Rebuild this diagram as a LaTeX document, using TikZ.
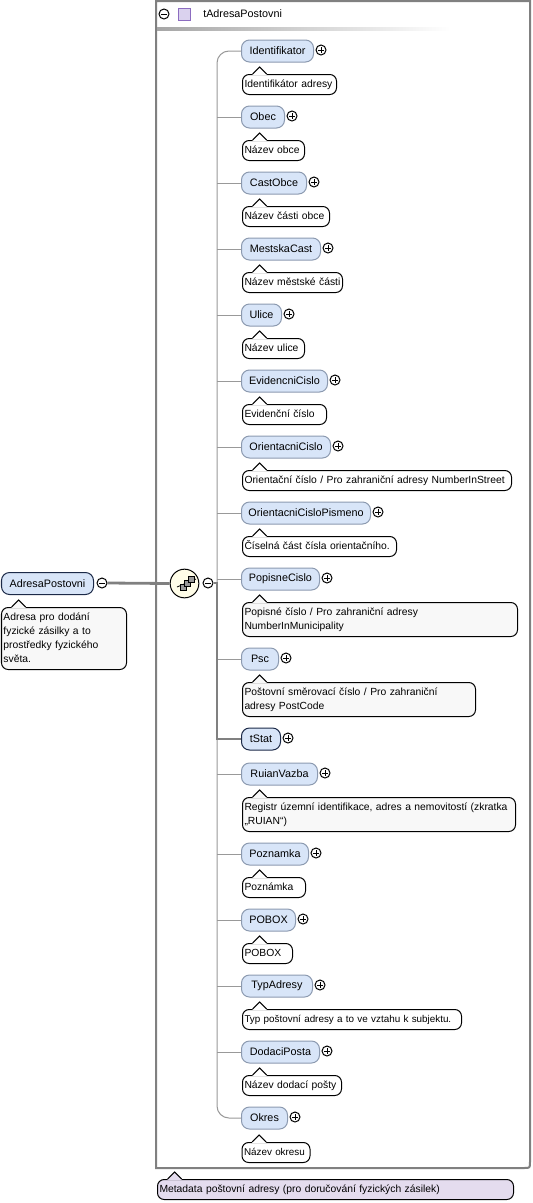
\documentclass[tikz,border=0pt]{standalone}
\usepackage{fontspec}
\setmainfont{Liberation Sans}
\definecolor{elem_fill}{HTML}{D8E5F8}
\definecolor{elem_line}{HTML}{8C9AB0}
\definecolor{elem_dark}{HTML}{1C2A48}
\definecolor{doc_gray}{HTML}{F8F8F8}
\definecolor{doc_violet}{HTML}{E4DCEE}
\definecolor{seq_fill}{HTML}{FFFDE8}
\definecolor{line_gray}{HTML}{808080}
\definecolor{type_fill}{HTML}{DAD2EE}
\definecolor{type_line}{HTML}{8C6CC0}

\begin{document}
\begin{tikzpicture}[
    x=0.75pt, y=-0.75pt,
    every node/.style={font=\fontsize{8.1}{10.5}\selectfont},
    elem/.style={rectangle, draw=elem_line, fill=elem_fill, line width=0.75pt, anchor=west,
                 minimum width=0.75pt*#1, minimum height=16.5pt, rounded corners=6pt, inner sep=0pt},
    elemreq/.style={elem=#1, draw=elem_dark},
    doc/.style n args={2}{rectangle, draw=black, fill=#2, line width=0.75pt, anchor=north west,
                 font=\fontsize{7.75}{10.5}\selectfont,
                 text width=0.75pt*#1-3pt, inner xsep=1.5pt, inner ysep=2.25pt, align=left,
                 rounded corners=5pt, execute at begin node=\strut, execute at end node=\strut},
    expander/.style={circle, draw=black, fill=white, line width=0.75pt, minimum size=7.5pt, inner sep=0pt},
    plusbtn/.style={expander, path picture={
        \draw[black, line width=0.6pt] ([xshift=-2pt]path picture bounding box.center) -- ([xshift=2pt]path picture bounding box.center);
        \draw[black, line width=0.6pt] ([yshift=-2pt]path picture bounding box.center) -- ([yshift=2pt]path picture bounding box.center);}},
    minusbtn/.style={expander, path picture={
        \draw[black, line width=0.6pt] ([xshift=-2pt]path picture bounding box.center) -- ([xshift=2pt]path picture bounding box.center);}},
    branch/.style={draw=line_gray!80, line width=0.75pt},
    trunk/.style={draw=line_gray, line width=2.1pt},
    iconbox/.style={draw=black, fill=line_gray!80, line width=0.4pt}
]

    \useasboundingbox (0,0) rectangle (532,1203);

    % Type box
    \draw[line_gray, line width=1.5pt, fill=white] (156,1) -- (530,1) -- (530,1162)
        .. controls (530,1168) .. (524,1168) -- (156,1168) -- cycle;
    \shade[left color=line_gray!70, right color=white] (157,27) rectangle (450,30);
    \node[minusbtn] (typeminus) at (164,14) {};
    \node[rectangle, draw=type_line, fill=type_fill, line width=0.75pt, minimum size=9pt, inner sep=0pt]
        (typeicon) at (184,14) {};
    \node[anchor=west, inner sep=0pt] (typename) at (203,14) {tAdresaPostovni};

    % Root element
    \node[elemreq=92] (adresapostovni) at (1,583.5) {AdresaPostovni};
    \node[minusbtn] (rootminus) at (102,583) {};
    \node[doc={125}{doc_gray}] (dadresa) at (1,607)
        {Adresa pro dodání\\fyzické zásilky a to\\prostředky fyzického\\světa.};

    % Sequence
    \node[circle, draw=black, fill=seq_fill, line width=0.75pt, minimum size=21.5pt, inner sep=0pt] (seq) at (184.5,583.5) {};
    \node[minusbtn] (seqminus) at (208,583) {};
    \coordinate (rail) at (217,583);
    \draw[black, line width=0.6pt] (177,587) -- (196,579);
    \draw[iconbox] (180,584) rectangle (186,590);
    \draw[iconbox] (184,580) rectangle (190,586);
    \draw[iconbox] (188,576.5) rectangle (194,582.5);

    % Child elements
    \node[elem=72] (identifikator) at (241,51) {Identifikator};
    \node[plusbtn] (pidentifikator) at (321,50) {};
    \node[doc={94}{white}] (didentifikator) at (242,74) {Identifikátor adresy};

    \node[elem=43] (obec) at (241,117) {Obec};
    \node[plusbtn] (pobec) at (292,116) {};
    \node[doc={62}{white}] (dobec) at (242,140) {Název obce};

    \node[elem=65] (castobce) at (241,183) {CastObce};
    \node[plusbtn] (pcastobce) at (314,182) {};
    \node[doc={87}{white}] (dcastobce) at (242,206) {Název části obce};

    \node[elem=79] (mestskacast) at (241,249) {MestskaCast};
    \node[plusbtn] (pmestskacast) at (328,248) {};
    \node[doc={100}{white}] (dmestskacast) at (242,272) {Název městské části};

    \node[elem=40] (ulice) at (241,315) {Ulice};
    \node[plusbtn] (pulice) at (289,314) {};
    \node[doc={62}{white}] (dulice) at (242,338) {Název ulice};

    \node[elem=86] (evidencnicislo) at (241,381) {EvidencniCislo};
    \node[plusbtn] (pevidencnicislo) at (335,380) {};
    \node[doc={84}{white}] (devidencnicislo) at (242,404) {Evidenční číslo};

    \node[elem=89] (orientacnicislo) at (241,447) {OrientacniCislo};
    \node[plusbtn] (porientacnicislo) at (338,446) {};
    \node[doc={269}{white}] (dorientacnicislo) at (242,470) {Orientační číslo / Pro zahraniční adresy NumberInStreet};

    \node[elem=129] (pismeno) at (241,513) {OrientacniCisloPismeno};
    \node[plusbtn] (ppismeno) at (378,512) {};
    \node[doc={154}{white}] (dpismeno) at (242,536) {Číselná část čísla orientačního.};

    \node[elem=78] (popisnecislo) at (241,579) {PopisneCislo};
    \node[plusbtn] (ppopisnecislo) at (327,578) {};
    \node[doc={275}{doc_gray}] (dpopisnecislo) at (242,602) {Popisné číslo / Pro zahraniční adresy\\NumberInMunicipality};

    \node[elem=37] (psc) at (241,659) {Psc};
    \node[plusbtn] (ppsc) at (286,658) {};
    \node[doc={233}{doc_gray}] (dpsc) at (242,682) {Poštovní směrovací číslo / Pro zahraniční\\adresy PostCode};

    \node[elemreq=39] (tstat) at (241,739) {tStat};
    \node[plusbtn] (ptstat) at (288,738) {};

    \node[elem=76] (ruianvazba) at (241,774) {RuianVazba};
    \node[plusbtn] (pruianvazba) at (325,773) {};
    \node[doc={273}{doc_gray}] (druianvazba) at (242,797) {Registr územní identifikace, adres a nemovitostí (zkratka\\„RUIAN“)};

    \node[elem=67] (poznamka) at (241,854) {Poznamka};
    \node[plusbtn] (ppoznamka) at (316,853) {};
    \node[doc={63}{white}] (dpoznamka) at (242,877) {Poznámka};

    \node[elem=54] (pobox) at (241,920) {POBOX};
    \node[plusbtn] (ppobox) at (303,919) {};
    \node[doc={50}{white}] (dpobox) at (242,943) {POBOX};

    \node[elem=71] (typadresy) at (241,986) {TypAdresy};
    \node[plusbtn] (ptypadresy) at (320,985) {};
    \node[doc={219}{white}, font=\fontsize{7.4}{10.5}\selectfont] (dtypadresy) at (242,1009) {Typ poštovní adresy a to ve vztahu k subjektu.};

    \node[elem=78] (dodaciposta) at (241,1052) {DodaciPosta};
    \node[plusbtn] (pdodaciposta) at (327,1051) {};
    \node[doc={99}{white}] (ddodaciposta) at (242,1075) {Název dodací pošty};

    \node[elem=46] (okres) at (241,1118) {Okres};
    \node[plusbtn] (pokres) at (295,1117) {};
    \node[doc={68}{white}, font=\fontsize{7.4}{10.5}\selectfont] (dokres) at (241.5,1142) {Název okresu};

    % Type description
    \node[doc={356}{doc_violet}] (dtype) at (157,1179) {Metadata poštovní adresy (pro doručování fyzických zásilek)};

    % Pointers above the descriptions
    \foreach \docname/\docfill in {dadresa/doc_gray, didentifikator/white, dobec/white, dcastobce/white,
        dmestskacast/white, dulice/white, devidencnicislo/white, dorientacnicislo/white, dpismeno/white,
        dpopisnecislo/doc_gray, dpsc/doc_gray, druianvazba/doc_gray, dpoznamka/white, dpobox/white,
        dtypadresy/white, ddodaciposta/white, dokres/white, dtype/doc_violet} {
        \fill[\docfill] ([xshift=8pt]\docname.north west) -- ++(7,-7) -- ++(7,7) -- ++(0,1.2) -- ++(-14,0) -- cycle;
        \draw[black, line width=0.75pt] ([xshift=8pt]\docname.north west) -- ++(7,-7) -- ++(7,7);
    }

    % Rail with rounded ends
    \draw[branch, rounded corners=9pt] (identifikator.west) -| (rail) |- (okres.west);
    \draw[branch] (rail |- obec.west) -- (obec.west);
    \draw[branch] (rail |- castobce.west) -- (castobce.west);
    \draw[branch] (rail |- mestskacast.west) -- (mestskacast.west);
    \draw[branch] (rail |- ulice.west) -- (ulice.west);
    \draw[branch] (rail |- evidencnicislo.west) -- (evidencnicislo.west);
    \draw[branch] (rail |- orientacnicislo.west) -- (orientacnicislo.west);
    \draw[branch] (rail |- pismeno.west) -- (pismeno.west);
    \draw[branch] (rail |- popisnecislo.west) -- (popisnecislo.west);
    \draw[branch] (rail |- psc.west) -- (psc.west);
    \draw[branch] (rail |- ruianvazba.west) -- (ruianvazba.west);
    \draw[branch] (rail |- poznamka.west) -- (poznamka.west);
    \draw[branch] (rail |- pobox.west) -- (pobox.west);
    \draw[branch] (rail |- typadresy.west) -- (typadresy.west);
    \draw[branch] (rail |- dodaciposta.west) -- (dodaciposta.west);

    % Thick connectors
    \draw[trunk] (rootminus.east) -- (seq.west);
    \draw[trunk] (seqminus.east) -- (rail) |- (tstat.west);

\end{tikzpicture}
\end{document}
